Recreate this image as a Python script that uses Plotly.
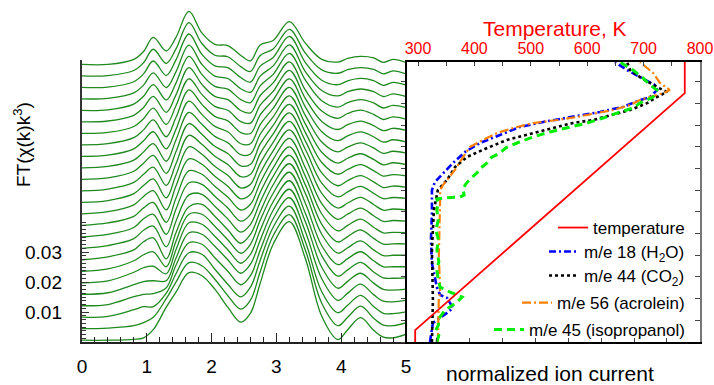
import plotly.graph_objects as go

# ---------------- left panel data: FT magnitudes (units of 1e-3), bottom curve first
r_grid = [0, 0.4, 0.8, 0.95, 1.1, 1.3, 1.45, 1.65, 1.85, 2.05, 2.25, 2.45, 2.6,
          2.75, 2.95, 3.2, 3.45, 3.7, 3.95, 4.1, 4.3, 4.5, 4.65, 4.8, 5.0]
ft_rows_e3 = [
    [0, 0, 0.3, 0.8, 3.5, 11, 16, 22.5, 21.5, 17, 11, 6, 9, 19, 32, 39.5, 27, 8, 0.2, 3.5, 7.5, 3.3, 1.0, 0.8, 2.0],
    [0, 0.2, 1.0, 2.0, 3.8, 10, 15.5, 22, 21, 16.5, 11, 6.5, 9.5, 19, 31, 38, 26, 8.5, 1.0, 3.8, 7.5, 3.5, 1.2, 1.0, 2.0],
    [0, 0.3, 2.5, 3.5, 3.5, 8, 14.5, 21.5, 21, 16, 11, 6.8, 10, 19, 30, 37, 25, 8.5, 1.5, 4, 7.3, 3.6, 1.3, 1.2, 1.8],
    [0, 0.4, 3.0, 3.8, 4.0, 6, 13.5, 21, 20.5, 16, 11.5, 7, 10, 18.5, 29, 36, 24.5, 9, 1.8, 4.2, 7.2, 3.7, 1.5, 1.3, 1.8],
    [0, 0.5, 3.2, 4.2, 4.5, 4.5, 12, 20.5, 20, 16, 11.5, 7, 10, 18, 28, 35, 24, 9, 2, 4.3, 7, 3.7, 1.6, 1.4, 1.7],
    [0, 0.6, 3.5, 5, 5.5, 3, 11, 20, 19.5, 15.5, 11, 6.5, 9.5, 17.5, 27, 34, 23, 9, 2.2, 4.3, 6.8, 3.6, 1.6, 1.5, 1.6],
    [0, 0.8, 3.5, 5.5, 6.5, 1.5, 10, 19, 19, 15, 10.5, 6, 9, 17, 26, 33, 22.5, 8.5, 2.2, 4.2, 6.5, 3.5, 1.5, 1.5, 1.5],
    [0, 1, 3.3, 6, 7.3, 0.3, 9, 17.7, 18.5, 14.5, 10, 5.5, 8.5, 16, 25, 32, 22, 8.5, 2.2, 4, 6.3, 3.3, 1.4, 1.5, 1.5],
    [0, 0.9, 3.2, 6, 7.4, 0.5, 9, 17.8, 18, 14, 9.8, 5.4, 8, 15.4, 24, 31, 21, 8, 2.1, 3.9, 6.1, 3.3, 1.4, 1.5, 1.5],
    [0, 0.8, 3.1, 6, 7.5, 0.8, 9.2, 18, 17.5, 13.5, 9.6, 5.2, 7.5, 14.8, 23, 30, 20, 7.6, 2, 3.8, 5.9, 3.2, 1.3, 1.5, 1.4],
    [0, 0.8, 3.0, 5.8, 7.6, 1.0, 9, 18.2, 17, 13, 9.4, 5.1, 7, 14.2, 22, 29, 19, 7.2, 2, 3.7, 5.7, 3.2, 1.3, 1.6, 1.4],
    [0, 0.7, 3.0, 5.8, 7.7, 1.3, 9.3, 18.3, 16.5, 12.5, 9.2, 5, 6.5, 13.6, 21, 28, 18.5, 6.8, 1.9, 3.6, 5.5, 3.1, 1.2, 1.6, 1.3],
    [0, 0.6, 2.9, 5.6, 7.8, 1.5, 9.1, 18.5, 16, 12, 9, 4.8, 6, 13, 20, 27, 17.5, 6.4, 1.8, 3.5, 5.3, 3, 1.2, 1.6, 1.3],
    [0, 0.6, 2.8, 5.5, 7.9, 1.8, 9, 18.5, 15.5, 11.5, 8.8, 4.7, 5.5, 12.4, 19, 26, 16.5, 6, 1.7, 3.4, 5.1, 3, 1.1, 1.6, 1.2],
    [0, 0.5, 2.7, 5.4, 8, 2, 9.2, 18.6, 15, 11, 8.6, 4.5, 5, 11.8, 18, 25, 15.5, 5.6, 1.7, 3.3, 4.9, 2.9, 1.1, 1.6, 1.2],
    [0, 0.5, 2.6, 5.3, 8.1, 2.2, 9.3, 18.5, 14.5, 10.5, 8.4, 4.4, 4.6, 11.2, 17, 24, 14.5, 5.2, 1.6, 3.2, 4.7, 2.8, 1, 1.7, 1.1],
    [0, 0.4, 2.5, 5.2, 8.2, 2.5, 9, 18.4, 14, 10, 8.2, 4.2, 4.2, 10.6, 16, 23, 13.5, 4.8, 1.5, 3.1, 4.5, 2.8, 1, 1.7, 1.1],
    [0, 0.4, 2.4, 5, 8.3, 2.7, 9.1, 18.3, 13.5, 9.5, 8, 4.1, 3.8, 10, 15, 22, 12.5, 4.4, 1.4, 3, 4.3, 2.7, 0.9, 1.7, 1],
    [0, 0.3, 2.3, 4.9, 8.4, 3, 9.2, 18.2, 13, 9, 7.7, 3.9, 3.4, 9.4, 14, 21, 11.5, 4, 1.3, 2.9, 4.1, 2.6, 0.9, 1.7, 1],
    [0, 0.3, 2.2, 4.8, 8.5, 3.2, 9, 18.1, 12.5, 8.5, 7.4, 3.8, 3, 8.8, 13, 20, 10.5, 3.6, 1.2, 2.8, 3.9, 2.5, 0.8, 1.7, 0.9],
    [0, 0.2, 2.1, 4.7, 8.6, 3.5, 9.1, 18, 12, 8, 7.1, 3.6, 2.6, 8.2, 12, 19, 10, 3.2, 1.1, 2.6, 3.6, 2.5, 0.8, 1.7, 0.9],
    [0, 0.2, 2.0, 4.6, 8.7, 3.8, 9, 17.9, 11.5, 7.6, 6.8, 3.4, 2.2, 7.6, 11, 18, 9, 2.8, 1, 2.4, 3.3, 2.4, 0.8, 1.7, 0.8],
    [0, 0.1, 1.9, 4.5, 8.8, 4, 9.2, 17.8, 11, 7.2, 6.6, 3.3, 1.8, 7.1, 10, 17, 8.2, 2.4, 0.9, 2.2, 3.0, 2.3, 0.7, 1.7, 0.8],
    [0, 0.1, 1.8, 4.4, 8.9, 4.2, 9, 17.8, 10.8, 6.9, 6.4, 3.1, 1.5, 6.8, 9, 15.5, 7.5, 2, 0.9, 2.1, 2.8, 2.2, 0.7, 1.7, 0.7],
    [0, 0, 1.7, 4.3, 9, 4.5, 9, 17.7, 10.5, 6.7, 6.3, 3, 1.2, 6.5, 8, 14.3, 7, 1.7, 0.8, 2, 2.7, 2.2, 0.7, 1.7, 0.7],
]
offset_base = 0.0006
offset_step = 0.00383
left_ticks = [0.01, 0.02, 0.03]

# ---------------- right panel data (time in arbitrary units, bottom -> top)
time_T = [0, 0.55, 11.47, 12.9]
temp_K = [295, 295, 773, 773]

time_h2o = [0, 0.55, 0.88, 1.34, 1.57, 1.80, 2.03, 2.17, 2.53, 3.64, 4.70, 5.94, 7.00, 7.37, 7.79,
            8.25, 8.76, 9.17, 9.54, 9.91, 10.14, 10.37, 10.60, 10.83, 11.15, 11.29, 11.61, 11.84,
            12.21, 12.53, 12.9]
ion_h2o = [0.079, 0.085, 0.088, 0.131, 0.149, 0.140, 0.131, 0.110, 0.100, 0.085, 0.082, 0.085, 0.085,
           0.094, 0.119, 0.149, 0.186, 0.231, 0.292, 0.353, 0.423, 0.514, 0.596, 0.666, 0.718, 0.749,
           0.770, 0.764, 0.718, 0.679, 0.642]

time_co2 = [0, 1.94, 4.24, 6.08, 7.00, 7.47, 8.06, 8.53, 8.94, 9.31, 9.63, 9.86, 10.09, 10.23, 10.46,
            10.69, 11.01, 11.29, 11.52, 11.75, 12.21, 12.53, 12.9]
ion_co2 = [0.085, 0.088, 0.085, 0.091, 0.103, 0.131, 0.155, 0.192, 0.253, 0.313, 0.393, 0.453, 0.514,
           0.575, 0.636, 0.688, 0.740, 0.770, 0.800, 0.770, 0.718, 0.688, 0.679]

time_acr = [0, 2.0, 2.3, 4.0, 6.54, 7.00, 7.24, 7.93, 8.53, 8.99, 9.31, 9.63, 9.86, 10.09, 10.23, 10.37,
            10.55, 10.69, 10.92, 11.15, 11.47, 11.61, 11.94, 12.40, 12.9]
ion_acr = [0.103, 0.106, 0.110, 0.106, 0.110, 0.110, 0.119, 0.155, 0.180, 0.201, 0.240, 0.283, 0.332,
           0.393, 0.466, 0.526, 0.587, 0.636, 0.688, 0.718, 0.788, 0.809, 0.779, 0.758, 0.718]

time_iso = [0, 0.30, 0.55, 0.80, 1.01, 1.25, 1.47, 1.84, 2.07, 2.30, 2.53, 2.9, 3.32, 3.7, 4.24, 4.7,
            5.16, 5.6, 6.08, 6.40, 6.59, 6.64, 6.68, 6.77, 7.0, 7.24, 7.5, 7.79, 8.0, 8.25, 8.5, 8.71,
            8.95, 9.17, 9.45, 9.68, 9.86, 10.09, 10.32, 10.55, 10.78, 11.01, 11.29, 11.61, 11.84,
            12.17, 12.53, 12.9]
ion_iso = [0.100, 0.106, 0.097, 0.105, 0.103, 0.115, 0.125, 0.161, 0.177, 0.140, 0.110, 0.104, 0.100,
           0.106, 0.100, 0.105, 0.097, 0.104, 0.100, 0.104, 0.100, 0.125, 0.170, 0.183, 0.180, 0.186,
           0.200, 0.222, 0.232, 0.253, 0.266, 0.292, 0.310, 0.344, 0.393, 0.444, 0.496, 0.557, 0.606,
           0.648, 0.697, 0.718, 0.758, 0.770, 0.749, 0.727, 0.697, 0.657]

# ---------------- figure geometry helpers (pixel -> paper)
W, H = 714, 385
def px(x):
    return x / W
def py(y):
    return (H - y) / H

FONT = "Liberation Sans, Arial, sans-serif"
fig = go.Figure()

# stacked FT curves
for i, row in enumerate(ft_rows_e3):
    off = offset_base + i * offset_step
    fig.add_trace(go.Scatter(
        x=r_grid, y=[off + v / 1000.0 for v in row], mode="lines",
        line=dict(color="#208a20", width=1.3, shape="spline", smoothing=1.0),
        xaxis="x", yaxis="y", showlegend=False, hoverinfo="skip"))

# dummy traces for auxiliary axes
fig.add_trace(go.Scatter(x=[None], y=[None], xaxis="x", yaxis="y3", showlegend=False))
fig.add_trace(go.Scatter(x=[None], y=[None], xaxis="x", yaxis="y4", showlegend=False))
fig.add_trace(go.Scatter(x=[None], y=[None], xaxis="x2", yaxis="y5", showlegend=False))

# temperature
fig.add_trace(go.Scatter(x=temp_K, y=time_T, mode="lines", name="temperature",
                         line=dict(color="#ff0000", width=1.8),
                         xaxis="x3", yaxis="y2", legend="legend"))
fig.add_trace(go.Scatter(x=ion_h2o, y=time_h2o, mode="lines", name="m/e 18 (H<sub>2</sub>O)",
                         line=dict(color="#0000ff", width=2.6, dash="7px,3px,2px,3px"),
                         xaxis="x2", yaxis="y2", legend="legend2"))
fig.add_trace(go.Scatter(x=ion_co2, y=time_co2, mode="lines", name="m/e 44 (CO<sub>2</sub>)",
                         line=dict(color="#000000", width=2.6, dash="3px,3px"),
                         xaxis="x2", yaxis="y2", legend="legend3"))
fig.add_trace(go.Scatter(x=ion_acr, y=time_acr, mode="lines", name="m/e 56 (acrolein)",
                         line=dict(color="#ff8000", width=2.2, dash="9px,3px,2px,3px"),
                         xaxis="x2", yaxis="y2", legend="legend4"))
fig.add_trace(go.Scatter(x=ion_iso, y=time_iso, mode="lines", name="m/e 45 (isopropanol)",
                         line=dict(color="#00ee00", width=3, dash="8px,5px"),
                         xaxis="x2", yaxis="y2", legend="legend5"))

bottom = py(342)
y_top_curves = 5
curve_range = (342 - y_top_curves) / 3000.0

fig.update_layout(
    width=W, height=H, margin=dict(l=0, r=0, t=0, b=0),
    paper_bgcolor="white", plot_bgcolor="rgba(0,0,0,0)",
    font=dict(family=FONT, color="black"),
    xaxis=dict(domain=[px(82), px(406)], range=[0, 5], anchor="y3",
               showline=True, linecolor="#222", linewidth=1.5,
               ticks="inside", ticklen=9, tickwidth=1.2, tickcolor="#222", dtick=1, tick0=0,
               minor=dict(dtick=0.2, ticks="inside", ticklen=5, tickwidth=1.2, tickcolor="#222"),
               tickfont=dict(size=19), showgrid=False, zeroline=False, automargin=False,
               ticklabelstandoff=6),
    yaxis=dict(domain=[bottom, py(y_top_curves)], range=[0, curve_range], anchor="x",
               visible=False, fixedrange=True),
    yaxis3=dict(domain=[bottom, py(60)], range=[0, 282 / 3000.0], anchor="x",
                showline=True, linecolor="#333", linewidth=2, ticks="", showticklabels=False,
                showgrid=False, zeroline=False),
    yaxis4=dict(domain=[bottom, py(220)], range=[0, 122 / 3000.0], anchor="x",
                showline=False, tickvals=left_ticks, ticktext=[f"{v:.2f}" for v in left_ticks],
                ticks="inside", ticklen=7, tickwidth=1.2, tickcolor="#333",
                minor=dict(dtick=0.00125, ticks="inside", ticklen=4, tickwidth=1, tickcolor="#333"),
                tickfont=dict(size=19), showgrid=False, zeroline=False, automargin=False,
                ticklabelstandoff=19),
    xaxis2=dict(domain=[px(407), px(700)], range=[3 / 328.6, 296 / 328.6], anchor="y2",
                showline=True, linecolor="black", linewidth=1.5,
                ticks="inside", ticklen=4, dtick=0.1, tick0=0, showticklabels=False,
                showgrid=False, zeroline=False),
    xaxis3=dict(overlaying="x2", side="top", anchor="y2", range=[280.5, 800],
                showline=True, linecolor="black", linewidth=1.5,
                ticks="inside", ticklen=4, dtick=100, tick0=0,
                minor=dict(dtick=50, ticks="inside", ticklen=4),
                tickfont=dict(size=16, color="#ff0000"), showgrid=False, zeroline=False,
                automargin=False, ticklabelstandoff=0),
    yaxis2=dict(domain=[bottom, py(62)], range=[0, 12.903], anchor="x2",
                showline=True, linecolor="black", linewidth=1.5,
                ticks="outside", ticklen=4, dtick=1, tick0=0, showticklabels=False,
                showgrid=False, zeroline=False),
    yaxis5=dict(overlaying="y2", side="right", anchor="x2", range=[0, 12.903],
                showline=True, linecolor="#777", linewidth=1.5,
                ticks="inside", ticklen=5, dtick=1, tick0=0, showticklabels=False,
                showgrid=False, zeroline=False),
)

leg_common = dict(xanchor="right", yanchor="middle", bgcolor="rgba(0,0,0,0)",
                  font=dict(size=17, family=FONT), borderwidth=0)
leg_y = [228, 252, 276, 303, 330]
for name, yy in zip(["legend", "legend2", "legend3", "legend4", "legend5"], leg_y):
    fig.update_layout({name: dict(x=px(690), y=py(yy), **leg_common)})

fig.add_annotation(text="Temperature, K", x=px(555), y=py(28), xref="paper", yref="paper",
                   xanchor="center", yanchor="middle",
                   showarrow=False, font=dict(size=21, color="#ff0000"))
fig.add_annotation(text="normalized ion current", x=px(550), y=py(373), xref="paper", yref="paper",
                   xanchor="center", yanchor="middle",
                   showarrow=False, font=dict(size=21, color="black"))
fig.add_annotation(text="FT(χ(k)k<sup>3</sup>)", x=px(22), y=py(145), xref="paper", yref="paper",
                   xanchor="center", yanchor="middle",
                   showarrow=False, textangle=-90, font=dict(size=19, color="black"))

fig.write_html("out.html", config={"displayModeBar": False},
               post_script="document.body.style.margin='0px';document.body.style.overflow='hidden';")
